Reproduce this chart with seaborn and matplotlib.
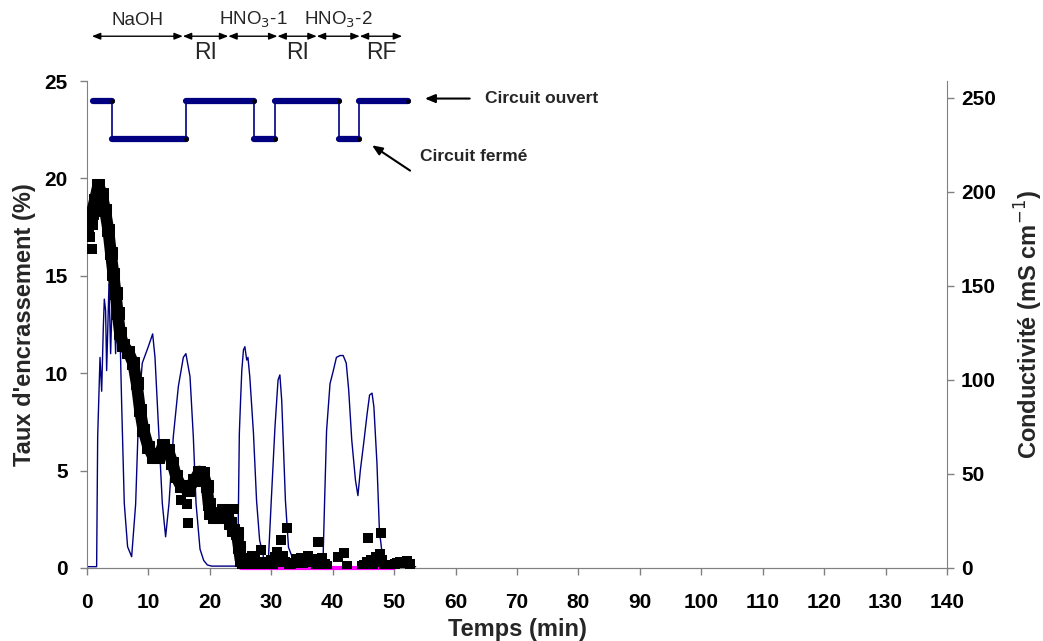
import numpy as np
import pandas as pd
import seaborn as sns
import matplotlib.pyplot as plt

# Conductivité (axe de droite)
cond_t = [0.0, 1.57, 1.74, 2.12, 2.39, 2.66, 2.82, 3.03, 3.2, 3.58, 3.85, 4.12, 4.45, 4.66,
          4.93, 5.1, 5.3, 5.64, 6.07, 6.61, 7.27, 7.92, 8.46, 9.0, 9.98, 10.69, 11.07,
          11.72, 12.26, 12.8, 13.35, 14.05, 14.87, 15.68, 16.1, 16.77, 17.31, 17.75, 18.4,
          19.0, 19.6, 20.3, 24.5, 24.6, 24.8, 25.0, 25.2, 25.47, 25.7, 26.0, 26.2, 26.5,
          27.1, 27.6, 28.1, 28.96, 29.5, 30.0, 30.6, 31.1, 31.4, 31.7, 32.3, 32.8, 33.9,
          38.4, 38.7, 39.0, 39.56, 40.1, 40.6, 41.2, 41.7, 42.2, 42.6, 43.1, 43.7, 44.1,
          44.5, 45.1, 45.6, 46.0, 46.4, 46.7, 47.2, 47.6, 48.1, 48.9, 53.5]
cond_val = [0.7, 0.7, 69.8, 112.0, 94.0, 128.0, 143.0, 137.0, 105.0, 151.0, 114.0, 146.0,
            137.0, 114.0, 146.0, 119.0, 135.0, 87.6, 34.4, 11.3, 6.0, 34.0, 87.6, 109.0,
            117.7, 124.5, 112.0, 69.8, 34.4, 16.6, 34.4, 69.8, 96.5, 112.0, 114.0, 101.8,
            69.8, 34.4, 10.0, 4.0, 1.6, 1.0, 1.0, 18.6, 71.6, 89.0, 105.0, 116.0, 117.7,
            110.6, 112.0, 101.8, 71.6, 36.0, 14.9, 2.5, 2.5, 36.0, 75.0, 100.0, 102.7, 89.0,
            36.0, 11.0, 1.6, 1.6, 38.0, 73.0, 98.0, 105.0, 112.0, 113.0, 113.0, 109.0,
            94.7, 68.0, 46.8, 38.5, 52.0, 68.0, 82.0, 92.0, 93.0, 85.8, 55.7, 20.0, 6.0,
            0.7, 0.7]

# Taux d'encrassement - courbe principale
foul_t = [0.2, 0.76, 1.3, 1.84, 2.39, 2.93, 3.47, 3.9, 4.29, 4.66, 4.99, 5.37, 5.91, 6.73,
          7.54, 8.08, 8.63, 9.17, 9.98, 10.8, 11.6, 12.4, 13.2, 13.9, 14.5, 15.3, 16.4,
          17.5, 18.3, 18.9, 19.5, 19.8, 20.1, 20.6, 21.4, 22.2, 22.8, 23.3, 23.8, 24.4,
          24.7, 25.0]
foul_val = [17.9, 18.2, 18.9, 19.66, 19.2, 18.4, 17.35, 16.15, 15.1, 14.1, 13.1, 12.05,
            11.45, 11.1, 10.5, 9.5, 8.1, 7.1, 6.2, 5.7, 5.7, 6.3, 6.05, 5.4, 4.7, 4.2, 4.0,
            4.5, 4.95, 4.86, 4.2, 3.3, 2.8, 2.6, 2.6, 2.98, 2.8, 2.3, 1.95, 1.78, 1.1, 0.41]

# Taux d'encrassement - points dispersés
scat_t = [0.1, 0.4, 0.5, 0.8, 1.0, 15.3, 16.2, 16.5, 24.0,
          25.3, 25.6, 25.9, 26.2, 26.5, 26.8, 27.1, 27.4, 27.7, 28.0, 28.4, 28.7, 29.0,
          29.3, 29.7, 30.0, 30.3, 30.6, 30.9, 31.2, 31.6, 31.9, 32.2, 32.6, 32.9, 33.2,
          33.6, 34.0, 34.4, 34.8, 35.2, 35.6, 36.0, 36.4, 36.8, 37.2, 37.6, 37.9, 38.3,
          38.7, 39.0, 40.9, 41.8, 42.3, 44.8, 45.1, 45.5, 45.8, 46.2, 46.6, 47.0, 47.4,
          47.7, 47.8, 48.1, 48.4, 49.7, 50.1, 50.5, 51.0, 51.5, 52.1, 52.6]
scat_val = [17.6, 17.3, 17.0, 16.4, 17.6, 3.5, 3.3, 2.3, 3.05,
            0.2, 0.35, 0.1, 0.5, 0.3, 0.6, 0.2, 0.45, 0.3, 0.15, 0.92, 0.3, 0.1, 0.25,
            0.1, 0.4, 0.2, 0.55, 0.8, 0.3, 1.44, 0.6, 0.3, 2.04, 0.2, 0.1, 0.25, 0.45,
            0.3, 0.5, 0.25, 0.4, 0.6, 0.3, 0.45, 0.2, 1.35, 0.4, 0.5, 0.2, 0.1, 0.58, 0.75,
            0.1, 0.1, 0.15, 0.3, 1.52, 0.4, 0.2, 0.58, 0.3, 0.72, 1.78, 0.4, 0.1, 0.15, 0.2,
            0.25, 0.32, 0.25, 0.36, 0.2]

# Ligne magenta au niveau zéro
mag_t = [25.0, 50.0]
mag_val = [0.0, 0.0]

# Etat du circuit (ouvert = 24, fermé = 22)
phase_start = [0.9, 4.0, 16.1, 27.2, 30.6, 41.1, 44.2]
phase_end = [4.0, 16.1, 27.2, 30.6, 41.1, 44.2, 52.3]
phase_level = [24, 22, 24, 22, 24, 22, 24]

# Etapes du nettoyage
stage_bounds = [0.8, 15.6, 23.0, 31.0, 37.4, 44.4, 51.3]
stage_labels = ['NaOH', 'RI', 'HNO$_3$-1', 'RI', 'HNO$_3$-2', 'RF']
stage_above = [True, False, True, False, True, False]

sns.set_style('ticks')
plt.rcParams['font.family'] = ['Liberation Sans', 'DejaVu Sans']

fig = plt.figure(figsize=(10.43, 6.41), dpi=100)
ax = fig.add_axes([0.0834, 0.1139, 0.8246, 0.7597])
ax2 = ax.twinx()

# conductivité
cond = pd.DataFrame({'t': cond_t, 'c': cond_val})
sns.lineplot(data=cond, x='t', y='c', ax=ax2, color='#000080', linewidth=1.0,
             sort=False, estimator=None)

# état du circuit
step_x, step_y = [], []
for s, e, lv in zip(phase_start, phase_end, phase_level):
    step_x += [s, e]
    step_y += [lv, lv]
ax.plot(step_x, step_y, color='#000080', linewidth=1.2, zorder=3)
for s, e, lv in zip(phase_start, phase_end, phase_level):
    ax.plot([s, e], [lv, lv], color='#000080', linewidth=4.5, solid_capstyle='round', zorder=4)
ax.scatter(phase_end, phase_level, s=5, color='black', zorder=5)

# encrassement
ax.plot(mag_t, mag_val, color='#ff00ff', linewidth=3, zorder=5, clip_on=False)
foul = pd.DataFrame({'t': foul_t, 'v': foul_val})
sns.lineplot(data=foul, x='t', y='v', ax=ax, color='black', linewidth=8.5,
             sort=False, estimator=None, marker='s', markersize=8.5,
             markeredgecolor='black', zorder=6)
scat = pd.DataFrame({'t': scat_t, 'v': scat_val})
sns.scatterplot(data=scat, x='t', y='v', ax=ax, color='black', marker='s', s=50,
                edgecolor='black', linewidth=0, zorder=6)

ax.set_xlim(0, 140)
ax.set_ylim(0, 25)
ax2.set_ylim(0, 259)
ax.set_xticks(range(0, 141, 10))
ax.set_yticks(range(0, 26, 5))
ax2.set_yticks(range(0, 251, 50))

ax.set_zorder(ax2.get_zorder() + 1)
ax.patch.set_visible(False)

spine_col = '#808080'
for a in (ax, ax2):
    for side in ('left', 'right', 'bottom'):
        a.spines[side].set_color(spine_col)
    a.spines['top'].set_visible(False)
    a.tick_params(colors=spine_col, labelcolor='black', length=5, width=1, labelsize=15)
    for lab in a.get_xticklabels() + a.get_yticklabels():
        lab.set_fontweight('bold')
ax.spines['right'].set_visible(False)
ax2.spines['left'].set_visible(False)
ax.tick_params(axis='x', pad=13)
ax.tick_params(axis='y', pad=9)
ax2.tick_params(axis='y', pad=5)

ax.set_xlabel('Temps (min)', fontsize=17, fontweight='bold', labelpad=4)
ax.set_ylabel("Taux d'encrassement (%)", fontsize=17, fontweight='bold', labelpad=6)
ax2.set_ylabel('Conductivité (mS cm$^{-1}$)', fontsize=17, fontweight='bold', labelpad=12)

# étapes en haut
tr = ax.get_xaxis_transform()
for i, lab in enumerate(stage_labels):
    x0, x1 = stage_bounds[i], stage_bounds[i + 1]
    ax.annotate('', xy=(x1, 1.092), xytext=(x0, 1.092), xycoords=tr, textcoords=tr,
                annotation_clip=False,
                arrowprops=dict(arrowstyle='<|-|>,head_length=0.5,head_width=0.2',
                                color='black', lw=1, shrinkA=0, shrinkB=0))
    if stage_above[i]:
        ax.text((x0 + x1) / 2, 1.125, lab, transform=tr, ha='center', va='center',
                fontsize=13.5)
    else:
        ax.text((x0 + x1) / 2, 1.058, lab, transform=tr, ha='center', va='center',
                fontsize=16.5)

# annotations circuit
arrow_kw = dict(arrowstyle='-|>,head_length=0.6,head_width=0.25', color='black', lw=1.5,
                shrinkA=0, shrinkB=0)
ax.text(64.8, 24.1, 'Circuit ouvert', fontsize=12.5, fontweight='bold', va='center', ha='left')
ax.annotate('', xy=(55.0, 24.1), xytext=(62.3, 24.1), arrowprops=arrow_kw)
ax.text(54.2, 21.1, 'Circuit fermé', fontsize=12.5, fontweight='bold', va='center', ha='left')
ax.annotate('', xy=(46.4, 21.7), xytext=(52.6, 20.4), arrowprops=arrow_kw)

fig.savefig('out.png', dpi=100)
